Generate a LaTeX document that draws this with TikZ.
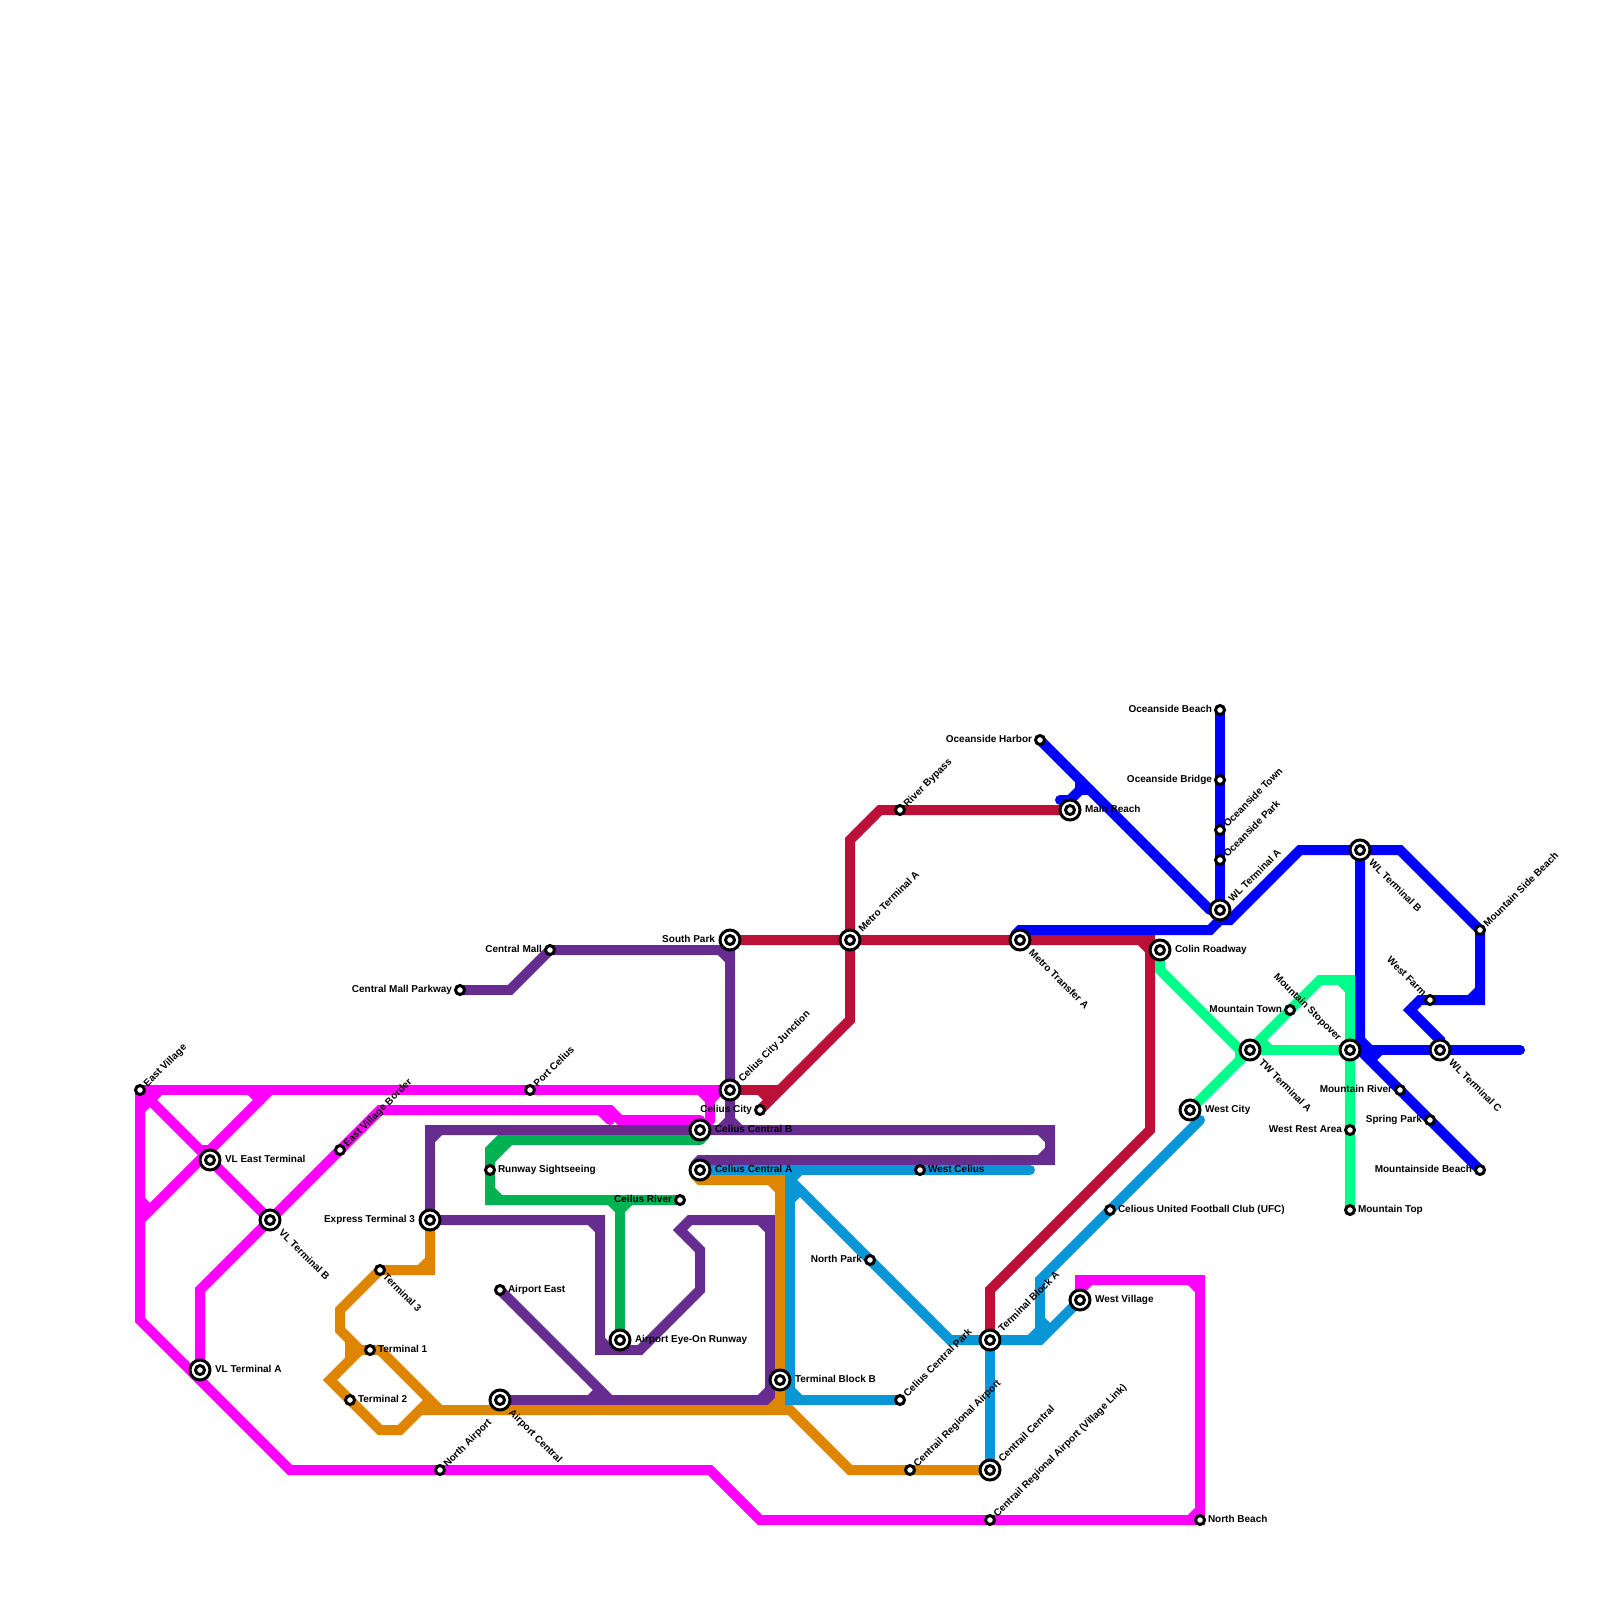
\documentclass[tikz,border=0pt]{standalone}
\usepackage{fontspec}
\setmainfont{Liberation Sans}
\pgfdeclarelayer{lines}
\pgfsetlayers{lines,main}
\definecolor{cmag}{HTML}{FF00FF}
\definecolor{cpur}{HTML}{662C90}
\definecolor{cgrn}{HTML}{00B251}
\definecolor{cred}{HTML}{BD1038}
\definecolor{cblu}{HTML}{0000FF}
\definecolor{cmin}{HTML}{00FF8A}
\definecolor{ccya}{HTML}{0896D7}
\definecolor{cora}{HTML}{DF8600}
\tikzset{
  ml/.style={line width=5pt,line cap=round,line join=miter,miter limit=10,draw=#1},
  mag/.style={ml=cmag}, pur/.style={ml=cpur}, grn/.style={ml=cgrn}, rdl/.style={ml=cred},
  blu/.style={ml=cblu}, mnt/.style={ml=cmin}, cya/.style={ml=ccya}, ora/.style={ml=cora},
  ic/.style={circle,inner sep=0pt,outer sep=0pt,minimum size=10pt,line width=1.5pt,draw=black,fill=white,
    path picture={\draw[black,line width=1.5pt] (path picture bounding box.center) circle (2.25pt);}},
  sm/.style={circle,inner sep=0pt,outer sep=0pt,minimum size=4.5pt,line width=1.5pt,draw=black,fill=white},
  lab/.style={inner sep=0pt,outer sep=0pt,text=black,font=\fontsize{5pt}{6pt}\selectfont\bfseries,text height=3.6pt,text depth=0pt},
  icR/.style={anchor=west,shift={(15,-1)}}, smR/.style={anchor=west,shift={(8,-1)}},
  icL/.style={anchor=east,shift={(-15,-1)}}, smL/.style={anchor=east,shift={(-8,-1)}},
  icU/.style={shift={(10,-10)},anchor=west,rotate=45}, smU/.style={shift={(5,-5)},anchor=west,rotate=45},
  icD/.style={shift={(11,11)},anchor=west,rotate=-45}, smD/.style={shift={(5,5)},anchor=west,rotate=-45},
  icN/.style={shift={(-10,-11)},anchor=east,rotate=-45}, smN/.style={shift={(-5,-6)},anchor=east,rotate=-45},
}
\newcommand{\St}[5]{\node[#3] (#1) at (#2) {};\node[lab,#3#4] (#1-t) at (#2) {#5};}
\begin{document}
\begin{tikzpicture}[x=0.5pt,y=-0.5pt]
\useasboundingbox (0,0) rectangle (1600,1600);
\St{eastv}{140,1090}{sm}{U}{East Village}
\St{vleast}{210,1160}{ic}{R}{VL East Terminal}
\St{vlb}{270,1220}{ic}{D}{VL Terminal B}
\St{vla}{200,1370}{ic}{R}{VL Terminal A}
\St{evb}{340,1150}{sm}{U}{East Village Border}
\St{portc}{530,1090}{sm}{U}{Port Celius}
\St{ext}{430,1220}{ic}{L}{Express Terminal 3}
\St{tthree}{380,1270}{sm}{D}{Terminal 3}
\St{tone}{370,1350}{sm}{R}{Terminal 1}
\St{ttwo}{350,1400}{sm}{R}{Terminal 2}
\St{runway}{490,1170}{sm}{R}{Runway Sightseeing}
\St{aeast}{500,1290}{sm}{R}{Airport East}
\St{acen}{500,1400}{ic}{D}{Airport Central}
\St{nair}{440,1470}{sm}{U}{North Airport}
\St{aeye}{620,1340}{ic}{R}{Airport Eye-On Runway}
\St{criver}{680,1200}{sm}{L}{Ceilus River}
\St{ccb}{700,1130}{ic}{R}{Celius Central B}
\St{cca}{700,1170}{ic}{R}{Celius Central A}
\St{ccj}{730,1090}{ic}{U}{Celius City Junction}
\St{ccity}{760,1110}{sm}{L}{Celius City}
\St{south}{730,940}{ic}{L}{South Park}
\St{cmall}{550,950}{sm}{L}{Central Mall}
\St{cmp}{460,990}{sm}{L}{Central Mall Parkway}
\St{mta}{850,940}{ic}{U}{Metro Terminal A}
\St{river}{900,810}{sm}{U}{River Bypass}
\St{mainb}{1070,810}{ic}{R}{Main Beach}
\St{mtr}{1020,940}{ic}{D}{Metro Transfer A}
\St{oharb}{1040,740}{sm}{L}{Oceanside Harbor}
\St{obeach}{1220,710}{sm}{L}{Oceanside Beach}
\St{obridge}{1220,780}{sm}{L}{Oceanside Bridge}
\St{otown}{1220,830}{sm}{U}{Oceanside Town}
\St{opark}{1220,860}{sm}{U}{Oceanside Park}
\St{wla}{1220,910}{ic}{U}{WL Terminal A}
\St{wlb}{1360,850}{ic}{D}{WL Terminal B}
\St{msb}{1480,930}{sm}{U}{Mountain Side Beach}
\St{wfarm}{1430,1000}{sm}{N}{West Farm}
\St{wlc}{1440,1050}{ic}{D}{WL Terminal C}
\St{mstop}{1350,1050}{ic}{N}{Mountain Stopover}
\St{twa}{1250,1050}{ic}{D}{TW Terminal A}
\St{colin}{1160,950}{ic}{R}{Colin Roadway}
\St{mtown}{1290,1010}{sm}{L}{Mountain Town}
\St{wcity}{1190,1110}{ic}{R}{West City}
\St{mriver}{1400,1090}{sm}{L}{Mountain River}
\St{spring}{1430,1120}{sm}{L}{Spring Park}
\St{wrest}{1350,1130}{sm}{L}{West Rest Area}
\St{mbeach}{1480,1170}{sm}{L}{Mountainside Beach}
\St{mtop}{1350,1210}{sm}{R}{Mountain Top}
\St{ufc}{1110,1210}{sm}{R}{Celious United Football Club (UFC)}
\St{wcel}{920,1170}{sm}{R}{West Celius}
\St{npark}{870,1260}{sm}{L}{North Park}
\St{tba}{990,1340}{ic}{U}{Terminal Block A}
\St{tbb}{780,1380}{ic}{R}{Terminal Block B}
\St{ccp}{900,1400}{sm}{U}{Celius Central Park}
\St{cra}{910,1470}{sm}{U}{Centrail Regional Airport}
\St{ccen}{990,1470}{ic}{U}{Centrail Central}
\St{crv}{990,1520}{sm}{U}{Centrail Regional Airport (Village Link)}
\St{nbeach}{1200,1520}{sm}{R}{North Beach}
\St{wvill}{1080,1300}{ic}{R}{West Village}
\begin{pgfonlayer}{lines}
\fill[white] (0,0) rectangle (1600,1600);
% magenta
\draw[mag] (eastv.center) -- (portc.center) -- (ccj.center);
\draw[mag] (eastv.center) -- (140,1320) -- (vla.center |- 0,1380) -- (290,1470) -- (nair.center) -- (710,1470) -- (760,1520) -- (crv.center) -- (nbeach.center) -- (1200,1280) -- (1080,1280) -- (wvill.center);
\draw[mag] (eastv.center) -- (200,1150) -- (210,1150);
\draw[mag] (vleast.center) -- (vlb.center);
\draw[mag] (270,1090) -- (140,1220);
\draw[mag] (vla.center) -- (200,1290) -- (vlb.center) -- (evb.center) -- (380,1110) -- (610,1110) -- (620,1120) -- (700,1120);
\draw[mag] (600,1110) -- (610,1120);
\draw[mag] (700,1090) -- (710,1100) -- (710,1120) -- (ccb.center);
\draw[mag] (720,1090) -- (710,1100);
\draw[mag] (140,1110) -- (160,1090);
\draw[mag] (140,1200) -- (150,1210);
\draw[mag] (250,1090) -- (260,1100);
\draw[mag] (1090,1280) -- (1080,1290);
\draw[mag] (1190,1280) -- (1200,1290);
\draw[mag] (1190,1520) -- (1200,1510);
% purple
\draw[pur] (ext.center) -- (430,1130) -- (ccb.center) -- (1050,1130) -- (1050,1160) -- (700,1160) -- (695,1165);
\draw[pur] (430,1140) -- (440,1130);
\draw[pur] (1040,1130) -- (1050,1140);
\draw[pur] (1050,1150) -- (1040,1160);
\draw[pur] (cmp.center) -- (510,990) -- (cmall.center) -- (730,950) -- (730,1120);
\draw[pur] (720,950) -- (730,960);
\draw[pur] (730,1120) -- (720,1130);
\draw[pur] (730,1120) -- (740,1130);
\draw[pur] (ext.center) -- (600,1220) -- (600,1350) -- (640,1350) -- (700,1290) -- (700,1250) -- (680,1230) -- (690,1220) -- (770,1220) -- (770,1400) -- (acen.center);
\draw[pur] (590,1220) -- (600,1230);
\draw[pur] (600,1340) -- (610,1350);
\draw[pur] (760,1220) -- (770,1230);
\draw[pur] (770,1390) -- (760,1400);
\draw[pur] (aeast.center) -- (610,1400);
\draw[pur] (590,1400) -- (600,1390);
% dark green
\draw[grn] (700,1140) -- (500,1140) -- (490,1150) -- (runway.center) -- (490,1200) -- (criver.center);
\draw[grn] (700,1140) -- (705,1135);
\draw[grn] (490,1160) -- (510,1140);
\draw[grn] (490,1190) -- (500,1200);
\draw[grn] (aeye.center) -- (620,1210);
\draw[grn] (610,1200) -- (620,1210) -- (630,1200);
% red
\draw[rdl] (south.center) -- (mta.center) -- (mtr.center) -- (1150,940) -- (1150,1130) -- (990,1290) -- (tba.center);
\draw[rdl] (1140,940) -- (1150,950);
\draw[rdl] (mta.center) -- (850,840) -- (880,810) -- (river.center) -- (mainb.center);
\draw[rdl] (mta.center) -- (850,1020) -- (ccity.center);
\draw[rdl] (ccj.center) -- (780,1090);
\draw[rdl] (760,1090) -- (770,1100);
% blue
\draw[blu] (oharb.center) -- (1210,910);
\draw[blu] (obeach.center) -- (wla.center);
\draw[blu] (1015,935) -- (1020,930) -- (1210,930) -- (1220,920) -- (1230,920) -- (1300,850) -- (1400,850) -- (msb.center) -- (1480,1000) -- (1420,1000) -- (1410,1010) -- (1440,1040) -- (wlc.center);
\draw[blu] (1470,1000) -- (1480,990);
\draw[blu] (1060,800) -- (1070,800) -- (1080,790) -- (1080,780);
\draw[blu] (1080,790) -- (1090,790);
\draw[blu] (wlb.center) -- (1360,1050) -- (mbeach.center);
\draw[blu] (1360,1050) -- (1520,1050);
\draw[blu] (1360,1040) -- (1370,1050);
\draw[blu] (1370,1060) -- (1380,1050);
% mint
\draw[mnt] (colin.center) -- (1160,970) -- (1240,1050) -- (1240,1060);
\draw[mnt] (wcity.center) -- (twa.center) -- (mtown.center) -- (1320,980) -- (1350,980) -- (mtop.center);
\draw[mnt] (1340,980) -- (1350,990);
\draw[mnt] (twa.center) -- (mstop.center);
\draw[mnt] (1260,1040) -- (1270,1050);
% cyan
\draw[cya] (cca.center) -- (1030,1170);
\draw[cya] (790,1170) -- (790,1400) -- (ccp.center);
\draw[cya] (790,1390) -- (800,1400);
\draw[cya] (780,1170) -- (npark.center) -- (950,1340) -- (1040,1340) -- (wvill.center);
\draw[cya] (800,1170) -- (790,1180);
\draw[cya] (790,1200) -- (800,1190);
\draw[cya] (1040,1340) -- (1040,1280) -- (ufc.center) -- (1200,1120);
\draw[cya] (1030,1340) -- (1040,1330);
\draw[cya] (1040,1320) -- (1050,1330);
\draw[cya] (tba.center) -- (ccen.center);
% orange
\draw[ora] (ext.center) -- (430,1270) -- (tthree.center) -- (340,1310) -- (340,1330) -- (360,1350) -- (tone.center);
\draw[ora] (420,1270) -- (430,1260);
\draw[ora] (350,1340) -- (350,1360);
\draw[ora] (360,1350) -- (330,1380) -- (380,1430) -- (400,1430) -- (430,1400);
\draw[ora] (tone.center) -- (380,1350) -- (440,1410);
\draw[ora] (420,1410) -- (790,1410) -- (850,1470) -- (cra.center) -- (ccen.center);
\draw[ora] (695,1175) -- (700,1180) -- (780,1180) -- (780,1410);
\draw[ora] (770,1180) -- (780,1190);
\draw[ora] (770,1410) -- (780,1400);
\end{pgfonlayer}
\end{tikzpicture}
\end{document}
